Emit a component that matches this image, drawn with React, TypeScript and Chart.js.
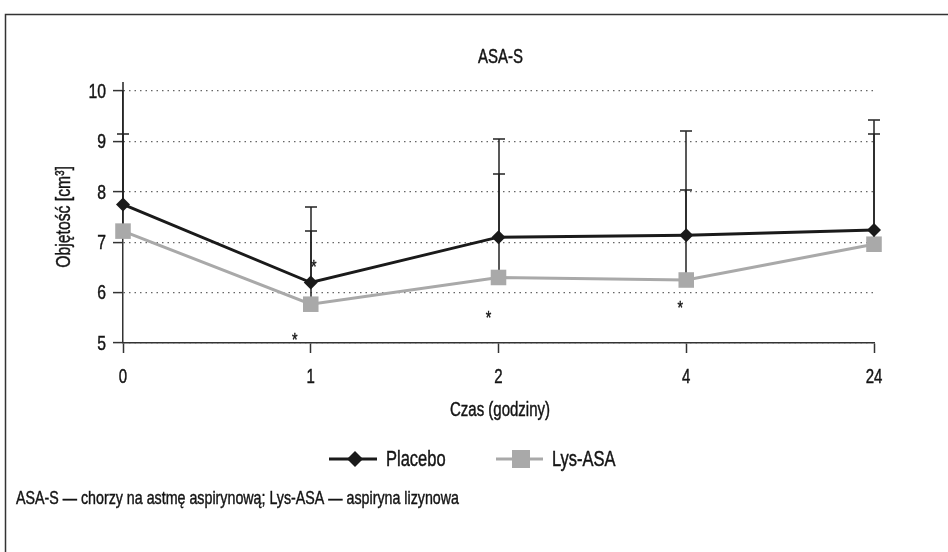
import React, { useEffect, useRef } from 'react';
import { Chart, registerables } from 'chart.js';
Chart.register(...registerables);

const categories = ['0', '1', '2', '4', '24'];
const placebo = [7.75, 6.2, 7.1, 7.14, 7.24];
const lysAsa = [7.22, 5.77, 6.3, 6.25, 6.96];
const placeboUpper = [10.18, 7.7, 9.05, 9.2, 9.42];
const lysAsaUpper = [9.15, 7.22, 8.36, 8.03, 9.15];
const starIndex = [1.016, 0.915, 1.947, 2.968];
const starValue = [6.55, 5.1, 5.55, 5.73];
const yTickValues = [5, 6, 7, 8, 9, 10];
const yMin = 5;
const yMax = 10;

const titleText = 'ASA-S';
const yTitle = 'Objętość [cm³]';
const xTitle = 'Czas (godziny)';
const seriesNames = ['Placebo', 'Lys-ASA'];
const footnote = 'ASA-S — chorzy na astmę aspirynową; Lys-ASA — aspiryna lizynowa';

const FONT = '"Liberation Sans", Arial, sans-serif';
const DARK = '#1a1a1a';
const GREY = '#a9a9a9';
const TEXT = '#141414';

function makeText(ctx: CanvasRenderingContext2D) {
  ctx.save();
  ctx.font = `19px ${FONT}`;
  const sx = 443 / ctx.measureText(footnote).width;
  ctx.restore();
  return (text: string, x: number, y: number, size: number, align: 'left' | 'center' | 'right', rot = 0) => {
    ctx.save();
    ctx.translate(x, y);
    if (rot) ctx.rotate(rot);
    ctx.scale(sx, 1);
    ctx.font = `${size}px ${FONT}`;
    ctx.fillStyle = TEXT;
    ctx.strokeStyle = TEXT;
    ctx.lineWidth = 0.45;
    ctx.textAlign = align;
    ctx.textBaseline = 'middle';
    ctx.fillText(text, 0, 0);
    ctx.strokeText(text, 0, 0);
    ctx.restore();
  };
}

const extras = {
  id: 'extras',
  beforeDatasetsDraw(chart: any) {
    const ctx = chart.ctx;
    const xs = chart.scales.x;
    const ys = chart.scales.y;
    const uppers = [placeboUpper, lysAsaUpper];
    const means = [placebo, lysAsa];
    ctx.save();
    ctx.strokeStyle = '#222';
    ctx.lineWidth = 1.5;
    uppers.forEach((arr, di) => {
      arr.forEach((u, i) => {
        const x = Math.round(xs.getPixelForValue(i));
        const y0 = ys.getPixelForValue(means[di][i]);
        const y1 = ys.getPixelForValue(u);
        ctx.beginPath();
        ctx.moveTo(x, y0);
        ctx.lineTo(x, y1);
        ctx.stroke();
        if (u <= yMax) {
          ctx.beginPath();
          ctx.moveTo(x - 6, Math.round(y1));
          ctx.lineTo(x + 6, Math.round(y1));
          ctx.stroke();
        }
      });
    });
    ctx.restore();
  },
  afterDraw(chart: any) {
    const ctx = chart.ctx;
    const xs = chart.scales.x;
    const ys = chart.scales.y;
    const T = makeText(ctx);
    ctx.save();
    // frame
    ctx.strokeStyle = '#333';
    ctx.lineWidth = 1.5;
    ctx.beginPath();
    ctx.moveTo(5.5, 560);
    ctx.lineTo(5.5, 14.5);
    ctx.lineTo(960, 14.5);
    ctx.stroke();
    ctx.restore();
    // tick labels
    yTickValues.forEach((v) => T(String(v), 106, ys.getPixelForValue(v) + 1, 21, 'right'));
    categories.forEach((c, i) => T(c, xs.getPixelForValue(i), 377, 20, 'center'));
    // asterisks
    starIndex.forEach((si, k) => T('*', xs.getPixelForValue(si), ys.getPixelForValue(starValue[k]) + 3, 19, 'center'));
    // titles
    T(titleText, (chart.chartArea.left + chart.chartArea.right) / 2 + 2, 57, 20, 'center');
    T(xTitle, 500, 410, 20, 'center');
    T(yTitle, 64, 217, 21, 'center', -Math.PI / 2);
    // legend
    ctx.save();
    ctx.lineWidth = 3;
    ctx.strokeStyle = DARK;
    ctx.beginPath();
    ctx.moveTo(329, 459);
    ctx.lineTo(377, 459);
    ctx.stroke();
    ctx.fillStyle = DARK;
    ctx.beginPath();
    ctx.moveTo(355, 451);
    ctx.lineTo(363, 459);
    ctx.lineTo(355, 467);
    ctx.lineTo(347, 459);
    ctx.closePath();
    ctx.fill();
    ctx.strokeStyle = GREY;
    ctx.beginPath();
    ctx.moveTo(496, 459);
    ctx.lineTo(543, 459);
    ctx.stroke();
    ctx.fillStyle = GREY;
    ctx.fillRect(512, 450, 18, 18);
    ctx.restore();
    T(seriesNames[0], 386, 460, 22, 'left');
    T(seriesNames[1], 552, 460, 22, 'left');
    // footnote
    T(footnote, 16, 499, 19, 'left');
  },
};

export default function App() {
  const ref = useRef<HTMLCanvasElement>(null);
  useEffect(() => {
    document.body.style.margin = '0';
    const chart = new Chart(ref.current!, {
      type: 'line',
      data: {
        labels: categories,
        datasets: [
          {
            label: seriesNames[0],
            data: placebo,
            borderColor: DARK,
            backgroundColor: DARK,
            borderWidth: 3,
            pointStyle: 'rectRot',
            pointRadius: 7,
            pointBorderWidth: 0,
            pointBackgroundColor: DARK,
          },
          {
            label: seriesNames[1],
            data: lysAsa,
            borderColor: GREY,
            backgroundColor: GREY,
            borderWidth: 3,
            pointStyle: 'rect',
            pointRadius: 11,
            pointBorderWidth: 0,
            pointBackgroundColor: GREY,
          },
        ],
      },
      options: {
        responsive: false,
        animation: false,
        layout: { padding: { top: 91, right: 74, left: 0, bottom: 0 } },
        plugins: { legend: { display: false }, title: { display: false }, tooltip: { enabled: false } },
        scales: {
          x: {
            type: 'category',
            offset: false,
            afterFit: (s: any) => { s.height = 552 - 343; },
            grid: { drawOnChartArea: false, drawTicks: true, tickLength: 10, tickColor: '#333', tickWidth: 1.5 },
            border: { color: '#333', width: 1.5 },
            ticks: { display: false },
          },
          y: {
            min: yMin,
            max: yMax,
            afterFit: (s: any) => { s.width = 123; },
            grid: {
              color: '#666',
              lineWidth: 1.2,
              tickLength: 10,
              tickColor: '#333',
              tickWidth: 1.5,
              tickBorderDash: [],
            },
            border: { color: '#333', width: 1.5, dash: [1.5, 4] },
            ticks: { stepSize: 1, display: false },
          },
        },
      },
      plugins: [extras],
    });
    return () => chart.destroy();
  }, []);
  return (
    <div style={{ position: 'relative', width: 948, height: 552, background: '#fff' }}>
      <canvas ref={ref} width={948} height={552} style={{ display: 'block' }} />
    </div>
  );
}
